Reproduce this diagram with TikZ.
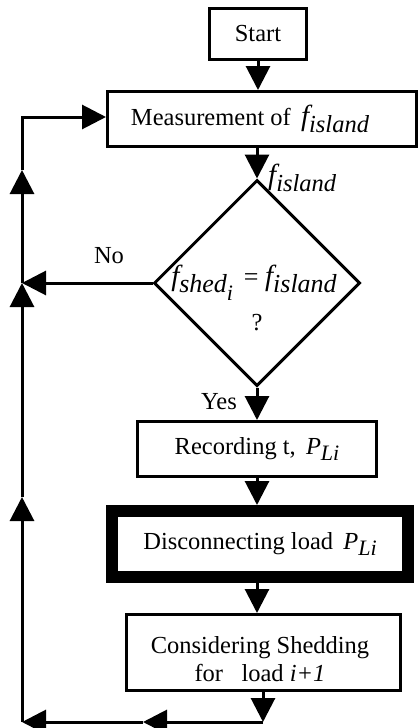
\documentclass[tikz,border=0pt]{standalone}
\usepackage{fontspec}
\setmainfont{Liberation Serif}
\usetikzlibrary{arrows.meta,shapes.geometric}
\newcommand{\fvar}{{\fontsize{29}{30}\selectfont\itshape f}}
\newcommand{\subtxt}[1]{\raisebox{-0.28em}{\itshape #1}}
\newcommand{\subsubtxt}[1]{\raisebox{-0.3em}{\fontsize{22}{24}\selectfont\itshape #1}}
\newcommand{\fisl}{\fvar\subtxt{island}}
\newcommand{\pli}{{\itshape P}\raisebox{-0.28em}{\fontsize{22}{24}\selectfont\itshape Li}}
\begin{document}
\begin{tikzpicture}[x=1pt,y=-1pt,
  font=\fontsize{24.5}{28}\selectfont,
  box/.style={draw, line width=3pt, inner sep=0pt, align=center},
  arr/.style={line width=3pt, -{Triangle[length=24pt,width=24pt]}},
  lbl/.style={inner sep=0pt, align=center}]
\useasboundingbox (0,0) rectangle (418,728);
\node[box, minimum width=97pt, minimum height=51pt] (start) at (258,34) {Start};
\node[box, minimum width=309pt, minimum height=55pt] (meas) at (262,119) {};
\node[lbl] (meastext) at (250,119) {Measurement of\, \fisl};
\node[draw, diamond, aspect=1, line width=3pt, minimum width=206pt, minimum height=206pt, inner sep=0pt] (dec) at (257,283) {};
\node[box, minimum width=239pt, minimum height=55pt] (rec) at (257,449) {Recording t,\, \pli};
\node[box, line width=12pt, minimum width=296pt, minimum height=66pt] (disc) at (260,544) {Disconnecting load\, \pli};
\node[box, minimum width=274pt, minimum height=76pt] (cons) at (263.5,652.5) {};
\node[lbl] (constext) at (260,659) {Considering Shedding\\for\ \ \ load \textit{i+1}};
\node[lbl, anchor=west] (flab) at (268,178) {\fisl};
\node[lbl, font=\fontsize{26}{28}\selectfont] (dq1) at (254,283) {\fvar\subtxt{shed\subsubtxt{i}}\,\ =\ \fisl};
\node[lbl] (dq2) at (257,323) {?};
\node[lbl] (no) at (109,256) {No};
\node[lbl] (yes) at (219,402) {Yes};
\coordinate (bl) at (22,722);
\coordinate (bm) at (143,722);
\coordinate (bd) at (263,722);
\coordinate (a1) at (22,497);
\coordinate (a2) at (22,283);
\coordinate (a3) at (22,170);
\coordinate (corner) at (22,117);
\draw[arr] (start.south) -- (start.south |- meas.north);
\draw[arr] (meas.south -| dec.north) -- (dec.north);
\draw[arr] (dec.south) -- (dec.south |- rec.north);
\draw[arr] (rec.south -| dec.south) -- (dec.south |- disc.north);
\draw[arr] (disc.south -| dec.south) -- (dec.south |- cons.north);
\draw[arr] (cons.south -| bd) -- (bd);
\draw[arr] (bd) -- (bm);
\draw[arr] (bm) -- (bl);
\draw[arr] (bl) -- (a1);
\draw[arr] (a1) -- (a2);
\draw[arr] (a2) -- (a3);
\draw[arr] (a3) -- (corner) -- (corner -| meas.west);
\draw[arr] (dec.west) -- (a2);
\end{tikzpicture}
\end{document}
